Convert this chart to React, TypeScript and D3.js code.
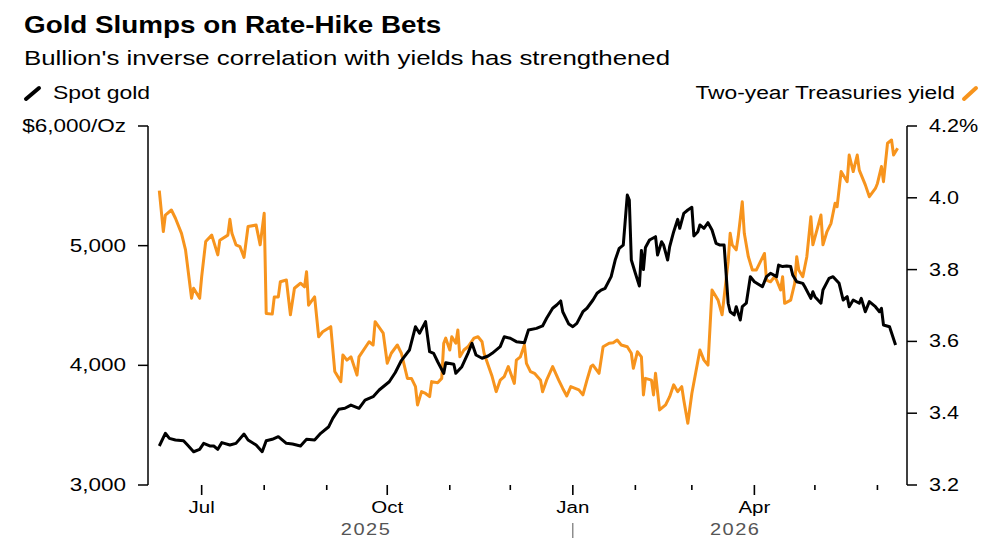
import * as d3 from 'd3';
import type { ReactNode } from 'react';

const TITLE = 'Gold Slumps on Rate-Hike Bets';
const SUBTITLE = "Bullion's inverse correlation with yields has strengthened";
const GOLD_LABEL = 'Spot gold';
const YIELD_LABEL = 'Two-year Treasuries yield';

const GOLD_TICKS = [3000, 4000, 5000, 6000];
const YIELD_TICKS = [3.2, 3.4, 3.6, 3.8, 4.0, 4.2];

const GOLD_DATES = [
  '2025-06-10', '2025-06-13', '2025-06-15', '2025-06-18', '2025-06-22', '2025-06-24', '2025-06-27', '2025-06-30',
  '2025-07-02', '2025-07-05', '2025-07-07', '2025-07-09', '2025-07-11', '2025-07-15', '2025-07-18', '2025-07-22',
  '2025-07-24', '2025-07-28', '2025-07-31', '2025-08-02', '2025-08-05', '2025-08-08', '2025-08-12', '2025-08-15',
  '2025-08-19', '2025-08-22', '2025-08-26', '2025-08-29', '2025-09-02', '2025-09-04', '2025-09-07', '2025-09-10',
  '2025-09-13', '2025-09-17', '2025-09-20', '2025-09-24', '2025-09-27', '2025-10-02', '2025-10-05', '2025-10-08',
  '2025-10-12', '2025-10-15', '2025-10-17', '2025-10-20', '2025-10-22', '2025-10-24', '2025-10-26', '2025-10-29',
  '2025-10-30', '2025-11-03', '2025-11-04', '2025-11-07', '2025-11-10', '2025-11-12', '2025-11-14', '2025-11-17',
  '2025-11-20', '2025-11-22', '2025-11-26', '2025-11-28', '2025-12-01', '2025-12-04', '2025-12-08', '2025-12-10',
  '2025-12-14', '2025-12-17', '2025-12-19', '2025-12-22', '2025-12-24', '2025-12-26', '2025-12-27', '2025-12-30',
  '2026-01-01', '2026-01-03', '2026-01-06', '2026-01-08', '2026-01-11', '2026-01-13', '2026-01-15', '2026-01-17',
  '2026-01-20', '2026-01-22', '2026-01-24', '2026-01-26', '2026-01-27', '2026-01-28', '2026-01-29', '2026-01-30',
  '2026-02-01', '2026-02-03', '2026-02-04', '2026-02-05', '2026-02-06', '2026-02-08', '2026-02-11', '2026-02-12',
  '2026-02-14', '2026-02-15', '2026-02-17', '2026-02-18', '2026-02-20', '2026-02-22', '2026-02-23', '2026-02-25',
  '2026-02-27', '2026-03-01', '2026-03-02', '2026-03-04', '2026-03-05', '2026-03-07', '2026-03-09', '2026-03-11',
  '2026-03-13', '2026-03-15', '2026-03-17', '2026-03-19', '2026-03-20', '2026-03-22', '2026-03-23', '2026-03-25',
  '2026-03-26', '2026-03-28', '2026-03-30', '2026-04-01', '2026-04-05', '2026-04-07', '2026-04-09', '2026-04-12',
  '2026-04-13', '2026-04-15', '2026-04-17', '2026-04-19', '2026-04-20', '2026-04-22', '2026-04-25', '2026-04-26',
  '2026-04-29', '2026-04-30', '2026-05-01', '2026-05-04', '2026-05-05', '2026-05-08', '2026-05-10', '2026-05-13',
  '2026-05-15', '2026-05-17', '2026-05-18', '2026-05-20', '2026-05-23', '2026-05-24', '2026-05-26', '2026-05-28',
  '2026-05-31', '2026-06-02', '2026-06-03', '2026-06-04', '2026-06-07', '2026-06-10',
];
const GOLD_VALUES = [
  3326, 3432, 3390, 3376, 3370, 3334, 3278, 3298,
  3348, 3326, 3326, 3298, 3354, 3334, 3348, 3426,
  3376, 3334, 3278, 3370, 3382, 3404, 3348, 3343,
  3326, 3382, 3376, 3432, 3487, 3557, 3633, 3641,
  3668, 3641, 3710, 3738, 3794, 3863, 3940, 4040,
  4128, 4323, 4268, 4365, 4114, 4100, 4030, 3933,
  4022, 4009, 3933, 3989, 4100, 4184, 4086, 4059,
  4078, 4100, 4156, 4239, 4226, 4198, 4189, 4295,
  4309, 4329, 4393, 4477, 4504, 4538, 4448, 4345,
  4323, 4351, 4448, 4477, 4546, 4602, 4629, 4644,
  4741, 4880, 4978, 5005, 5214, 5423, 5381, 4880,
  4769, 4663, 4960, 4800, 4985, 5047, 5075, 4922,
  5033, 5005, 4880, 4991, 5117, 5220, 5145, 5270,
  5298, 5321, 5081, 5117, 5173, 5145, 5192, 5131,
  5020, 5005, 5005, 4519, 4448, 4421, 4490, 4379,
  4490, 4519, 4741, 4699, 4657, 4741, 4769, 4741,
  4838, 4825, 4830, 4825, 4755, 4699, 4685, 4657,
  4560, 4615, 4574, 4519, 4630, 4727, 4741, 4685,
  4546, 4574, 4490, 4546, 4519, 4560, 4448, 4532,
  4490, 4448, 4476, 4337, 4323, 4170,
];

const YIELD_DATES = [
  '2025-06-10', '2025-06-12', '2025-06-13', '2025-06-16', '2025-06-18', '2025-06-21', '2025-06-23', '2025-06-26',
  '2025-06-27', '2025-06-30', '2025-07-01', '2025-07-03', '2025-07-06', '2025-07-09', '2025-07-10', '2025-07-14',
  '2025-07-15', '2025-07-16', '2025-07-18', '2025-07-20', '2025-07-22', '2025-07-24', '2025-07-28', '2025-07-30',
  '2025-08-01', '2025-08-02', '2025-08-05', '2025-08-06', '2025-08-08', '2025-08-09', '2025-08-12', '2025-08-14',
  '2025-08-16', '2025-08-19', '2025-08-21', '2025-08-22', '2025-08-23', '2025-08-26', '2025-08-28', '2025-08-30',
  '2025-09-03', '2025-09-05', '2025-09-08', '2025-09-09', '2025-09-11', '2025-09-13', '2025-09-16', '2025-09-17',
  '2025-09-22', '2025-09-24', '2025-09-25', '2025-09-29', '2025-10-01', '2025-10-03', '2025-10-06', '2025-10-08',
  '2025-10-11', '2025-10-13', '2025-10-15', '2025-10-16', '2025-10-18', '2025-10-20', '2025-10-22', '2025-10-23',
  '2025-10-26', '2025-10-28', '2025-10-29', '2025-10-30', '2025-11-01', '2025-11-02', '2025-11-04', '2025-11-05',
  '2025-11-06', '2025-11-08', '2025-11-10', '2025-11-13', '2025-11-15', '2025-11-17', '2025-11-18', '2025-11-20',
  '2025-11-22', '2025-11-24', '2025-11-26', '2025-11-28', '2025-11-30', '2025-12-03', '2025-12-04', '2025-12-06',
  '2025-12-08', '2025-12-09', '2025-12-11', '2025-12-13', '2025-12-16', '2025-12-17', '2025-12-19', '2025-12-22',
  '2025-12-25', '2025-12-27', '2025-12-29', '2025-12-31', '2026-01-04', '2026-01-06', '2026-01-08', '2026-01-10',
  '2026-01-11', '2026-01-14', '2026-01-16', '2026-01-19', '2026-01-21', '2026-01-23', '2026-01-25', '2026-01-28',
  '2026-01-30', '2026-01-31', '2026-02-02', '2026-02-04', '2026-02-05', '2026-02-06', '2026-02-09', '2026-02-10',
  '2026-02-11', '2026-02-13', '2026-02-16', '2026-02-18', '2026-02-20', '2026-02-22', '2026-02-24', '2026-02-25',
  '2026-02-27', '2026-03-01', '2026-03-05', '2026-03-07', '2026-03-09', '2026-03-11', '2026-03-14', '2026-03-16',
  '2026-03-19', '2026-03-20', '2026-03-21', '2026-03-23', '2026-03-24', '2026-03-26', '2026-03-27', '2026-03-29',
  '2026-03-31', '2026-04-02', '2026-04-04', '2026-04-06', '2026-04-07', '2026-04-09', '2026-04-11', '2026-04-12',
  '2026-04-14', '2026-04-15', '2026-04-16', '2026-04-19', '2026-04-21', '2026-04-22', '2026-04-23', '2026-04-25',
  '2026-04-27', '2026-04-29', '2026-04-30', '2026-05-02', '2026-05-04', '2026-05-05', '2026-05-07', '2026-05-09',
  '2026-05-11', '2026-05-12', '2026-05-14', '2026-05-17', '2026-05-18', '2026-05-20', '2026-05-22', '2026-05-23',
  '2026-05-26', '2026-05-28', '2026-05-31', '2026-06-01', '2026-06-03', '2026-06-04', '2026-06-06', '2026-06-08',
  '2026-06-09', '2026-06-11',
];
const YIELD_VALUES = [
  4.020, 3.906, 3.952, 3.966, 3.943, 3.901, 3.855, 3.720,
  3.748, 3.720, 3.780, 3.878, 3.896, 3.841, 3.882, 3.896,
  3.940, 3.901, 3.869, 3.864, 3.834, 3.920, 3.924, 3.869,
  3.957, 3.678, 3.676, 3.724, 3.724, 3.766, 3.771, 3.674,
  3.748, 3.762, 3.752, 3.794, 3.701, 3.724, 3.613, 3.627,
  3.641, 3.516, 3.488, 3.562, 3.548, 3.557, 3.506, 3.557,
  3.599, 3.590, 3.655, 3.623, 3.539, 3.567, 3.590, 3.567,
  3.497, 3.497, 3.474, 3.423, 3.460, 3.455, 3.446, 3.488,
  3.485, 3.497, 3.595, 3.609, 3.576, 3.613, 3.595, 3.632,
  3.557, 3.576, 3.585, 3.609, 3.613, 3.599, 3.567, 3.534,
  3.502, 3.460, 3.492, 3.502, 3.530, 3.483, 3.548, 3.557,
  3.590, 3.539, 3.516, 3.511, 3.492, 3.460, 3.492, 3.530,
  3.492, 3.469, 3.448, 3.474, 3.465, 3.451, 3.492, 3.530,
  3.534, 3.511, 3.585, 3.595, 3.596, 3.604, 3.590, 3.585,
  3.567, 3.525, 3.571, 3.557, 3.451, 3.497, 3.492, 3.451,
  3.511, 3.409, 3.423, 3.446, 3.479, 3.460, 3.474, 3.437,
  3.372, 3.455, 3.576, 3.548, 3.534, 3.743, 3.715, 3.674,
  3.822, 3.901, 3.869, 3.855, 3.892, 3.989, 3.901, 3.836,
  3.799, 3.799, 3.822, 3.845, 3.771, 3.766, 3.780, 3.771,
  3.743, 3.780, 3.706, 3.715, 3.762, 3.836, 3.799, 3.780,
  3.836, 3.947, 3.869, 3.910, 3.952, 3.869, 3.906, 3.929,
  3.985, 3.975, 4.073, 4.045, 4.119, 4.073, 4.119, 4.077,
  4.036, 4.003, 4.026, 4.040, 4.087, 4.045, 4.152, 4.161,
  4.119, 4.138,
];

const X_START = '2025-06-10';
const X_END = '2026-06-11';
const QUARTER_MONTHS = [0, 3, 6, 9];

const ORANGE = '#f7941d';
const FONT = '"Liberation Sans", Arial, Helvetica, sans-serif';
// the reference face is a wide grotesque, so Liberation is stretched sideways
const WIDE = 1.23;

type Pt = { date: Date; value: number };

function WideText({ x, y, sx = WIDE, children, ...rest }: {
  x: number; y: number; sx?: number; children: ReactNode; [k: string]: any;
}) {
  return (
    <text transform={`translate(${x},${y}) scale(${sx},1)`} {...rest}>{children}</text>
  );
}

export default function App() {
  const parse = d3.utcParse('%Y-%m-%d');
  const gold: Pt[] = GOLD_DATES.map((d, i) => ({ date: parse(d)!, value: GOLD_VALUES[i] }));
  const yld: Pt[] = YIELD_DATES.map((d, i) => ({ date: parse(d)!, value: YIELD_VALUES[i] }));

  const start = parse(X_START)!;
  const end = parse(X_END)!;

  const plotTop = 126;
  const plotBottom = 485;
  const leftAxisX = 148;
  const rightAxisX = 907;

  const x = d3.scaleUtc().domain([start, end]).range([159.3, 897.6]);
  const yGold = d3.scaleLinear().domain([3000, 6000]).range([plotBottom, plotTop]);
  const yYield = d3.scaleLinear().domain([3.2, 4.2]).range([plotBottom, plotTop]);

  const goldLine = d3.line<Pt>().x(d => x(d.date)).y(d => yGold(d.value));
  const yieldLine = d3.line<Pt>().x(d => x(d.date)).y(d => yYield(d.value));

  const months = d3.utcMonth.range(d3.utcMonth.ceil(start), end);
  const jan = d3.utcYear.ceil(start);

  return (
    <svg width={1000} height={545} style={{ position: 'absolute', left: 0, top: 0, background: 'white', fontFamily: FONT }}>
      {/* Header */}
      <WideText x={24} y={33} sx={1.21} fontSize={23} fontWeight={700} fill="#000">{TITLE}</WideText>
      <WideText x={24} y={65} sx={1.23} fontSize={21} fill="#000">{SUBTITLE}</WideText>

      {/* Legend */}
      <line x1={26} y1={99} x2={39} y2={88} stroke="#000" strokeWidth={4} strokeLinecap="round" />
      <WideText x={53} y={99} sx={1.21} fontSize={19} fill="#000">{GOLD_LABEL}</WideText>
      <WideText x={955} y={99} sx={1.2} fontSize={19} fill="#000" textAnchor="end">{YIELD_LABEL}</WideText>
      <line x1={964} y1={99} x2={976} y2={88} stroke={ORANGE} strokeWidth={4} strokeLinecap="round" />

      {/* Left axis */}
      <line x1={leftAxisX} x2={leftAxisX} y1={plotTop} y2={plotBottom} stroke="#000" strokeWidth={1.5} />
      {GOLD_TICKS.map(t => (
        <g key={t} transform={`translate(0,${yGold(t)})`}>
          <line x1={leftAxisX - 10} x2={leftAxisX} stroke="#000" strokeWidth={1.5} />
          <WideText x={leftAxisX - 22} y={6} sx={1.25} fontSize={18} textAnchor="end" fill="#000">
            {t === 6000 ? '$6,000/Oz' : d3.format(',')(t)}
          </WideText>
        </g>
      ))}

      {/* Right axis */}
      <line x1={rightAxisX} x2={rightAxisX} y1={plotTop} y2={plotBottom} stroke="#000" strokeWidth={1.5} />
      {YIELD_TICKS.map(t => (
        <g key={t} transform={`translate(0,${yYield(t)})`}>
          <line x1={rightAxisX} x2={rightAxisX + 10} stroke="#000" strokeWidth={1.5} />
          <WideText x={rightAxisX + 22} y={6} sx={1.2} fontSize={18} fill="#000">
            {t === 4.2 ? '4.2%' : d3.format('.1f')(t)}
          </WideText>
        </g>
      ))}

      {/* Bottom ticks */}
      {months.map(m => {
        const major = QUARTER_MONTHS.includes(m.getUTCMonth());
        return (
          <g key={m.toISOString()} transform={`translate(${x(m)},0)`}>
            <line y1={485} y2={major ? 495 : 490} stroke="#000" strokeWidth={1.6} />
            {major && (
              <WideText x={0} y={513} sx={1.28} fontSize={16} textAnchor="middle" fill="#000">
                {d3.utcFormat('%b')(m)}
              </WideText>
            )}
          </g>
        );
      })}
      <WideText x={(x(start) + x(jan)) / 2} y={535} sx={1.25} fontSize={16} textAnchor="middle" fill="#555" letterSpacing={1.2}>
        {d3.utcFormat('%Y')(start)}
      </WideText>
      <line x1={x(jan)} x2={x(jan)} y1={523} y2={538} stroke="#555" strokeWidth={1} />
      <WideText x={(x(jan) + x(end)) / 2} y={535} sx={1.25} fontSize={16} textAnchor="middle" fill="#555" letterSpacing={1.2}>
        {d3.utcFormat('%Y')(jan)}
      </WideText>

      {/* Series */}
      <path d={yieldLine(yld) ?? ''} fill="none" stroke={ORANGE} strokeWidth={3} strokeLinejoin="round" />
      <path d={goldLine(gold) ?? ''} fill="none" stroke="#000" strokeWidth={3} strokeLinejoin="round" />
    </svg>
  );
}
